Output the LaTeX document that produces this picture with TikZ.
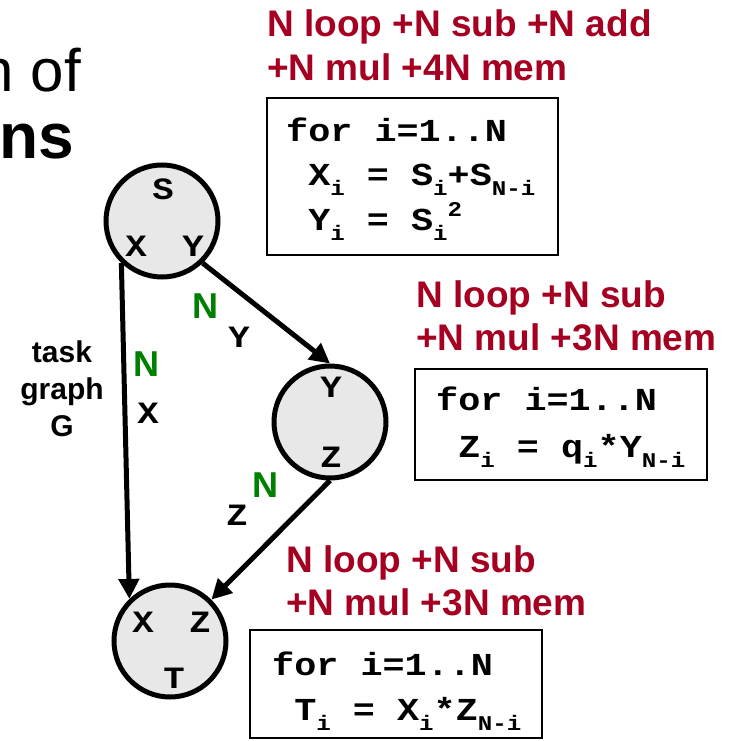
\documentclass[tikz,border=0pt]{standalone}
\usepackage{fontspec}
\setmainfont{Liberation Sans}
\newfontfamily\codefont[FakeStretch=1.15]{Liberation Mono}
\usetikzlibrary{arrows.meta}
\definecolor{costred}{RGB}{165,0,33}
\definecolor{edgegreen}{RGB}{0,128,0}
\definecolor{taskfill}{RGB}{232,232,232}
\newcommand\sbx[1]{\raisebox{-0.32em}{\fontsize{21}{21}\selectfont #1}}
\newcommand\spx[1]{\raisebox{0.42em}{\fontsize{21}{21}\selectfont #1}}
\begin{document}
\begin{tikzpicture}[x=1pt,y=-1pt,
  task/.style={circle,draw,line width=5pt,fill=taskfill,minimum size=112pt,inner sep=0pt},
  port/.style={font=\codefont\bfseries\fontsize{31}{31}\selectfont,inner sep=0pt},
  cnt/.style={font=\bfseries\fontsize{36}{36}\selectfont,text=edgegreen,inner sep=0pt},
  cost/.style={font=\bfseries\fontsize{37}{37}\selectfont,text=costred,inner sep=0pt,anchor=base west},
  codebox/.style={draw,line width=1.8pt,inner sep=0pt},
  codeline/.style={font=\codefont\bfseries\fontsize{32}{32}\selectfont,inner sep=0pt,anchor=base west},
  flow/.style={line width=5pt,-{Triangle[length=20pt,width=20pt]}}]
\useasboundingbox (0,0) rectangle (728,741);
% title fragments
\node[font=\fontsize{60}{60}\selectfont,anchor=base east,inner sep=0pt] (t1) at (81,92) {n of};
\node[font=\bfseries\fontsize{64}{64}\selectfont,anchor=base east,inner sep=0pt] (t2) at (74,158) {ns};
% tasks
\node[task] (S) at (162,221) {};
\node[task] (Y) at (330,422) {};
\node[task] (T) at (170,641) {};
\node[port] (sS) at (163,189) {S};
\node[port] (sX) at (136,246) {X};
\node[port] (sY) at (193,246) {Y};
\node[port] (yY) at (331,387) {Y};
\node[port] (yZ) at (331,457) {Z};
\node[port] (tX) at (143,622) {X};
\node[port] (tZ) at (200,622) {Z};
\node[port] (tT) at (174,678) {T};
% edges
\draw[flow] (S.226) -- (T.134);
\draw[flow] (S.314) -- (Y.north);
\draw[flow] (Y.south) -- (T.45);
% edge labels
\node[cnt] (n1) at (205,306) {N};
\node[port] (e1) at (239,337) {Y};
\node[cnt] (n2) at (146,364) {N};
\node[port] (e2) at (148,413) {X};
\node[cnt] (n3) at (265,485) {N};
\node[port] (e3) at (237,515) {Z};
\node[font=\bfseries\fontsize{30}{37}\selectfont,align=center,inner sep=0pt,anchor=base] (G) at (62,436) {task\\graph\\G};
% costs and code
\node[cost] (c1a) at (267,37) {N loop +N sub +N add};
\node[cost] (c1b) at (267,81) {+N mul +4N mem};
\node[codebox,minimum width=291pt,minimum height=157pt] (b1) at (412.5,176.5) {};
\node[codeline] (l1a) at (286,142) {for i=1..N};
\node[codeline] (l1b) at (286,185) {\phantom{f}X\sbx{i} = S\sbx{i}+S\sbx{N-i}};
\node[codeline] (l1c) at (286,230) {\phantom{f}Y\sbx{i} = S\sbx{i}\spx{2}};
\node[cost] (c2a) at (416,307) {N loop +N sub};
\node[cost] (c2b) at (416,350) {+N mul +3N mem};
\node[codebox,minimum width=292pt,minimum height=111pt] (b2) at (561,424.5) {};
\node[codeline] (l2a) at (436,410) {for i=1..N};
\node[codeline] (l2b) at (436,457) {\phantom{f}Z\sbx{i} = q\sbx{i}*Y\sbx{N-i}};
\node[cost] (c3a) at (286,572) {N loop +N sub};
\node[cost] (c3b) at (286,615) {+N mul +3N mem};
\node[codebox,minimum width=292pt,minimum height=108pt] (b3) at (396,684) {};
\node[codeline] (l3a) at (272,675) {for i=1..N};
\node[codeline] (l3b) at (272,720) {\phantom{f}T\sbx{i} = X\sbx{i}*Z\sbx{N-i}};
\end{tikzpicture}
\end{document}
